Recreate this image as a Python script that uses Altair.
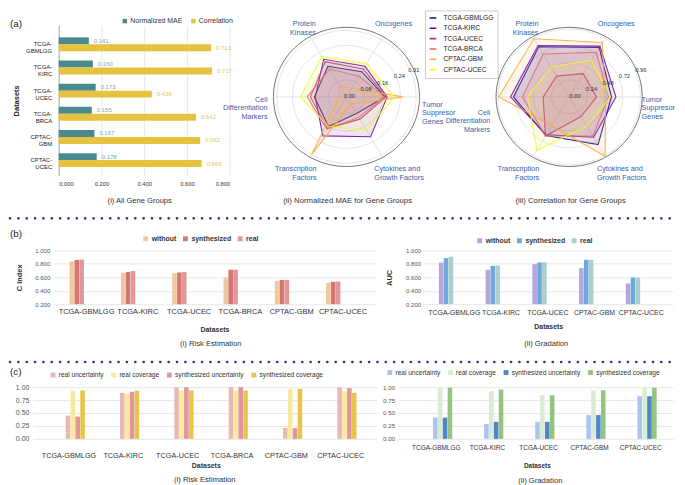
import altair as alt
import pandas as pd

FONT = "Liberation Sans"
LABEL_BLUE = "#3560b0"

# ---------------- (a)(i) all gene groups ----------------
datasets_a = ["TCGA-GBMLGG", "TCGA-KIRC", "TCGA-UCEC", "TCGA-BRCA", "CPTAC-GBM", "CPTAC-UCEC"]
metrics_a = ["Normalized MAE", "Correlation"]
mae_all = [0.141, 0.160, 0.173, 0.155, 0.167, 0.178]
corr_all = [0.713, 0.717, 0.436, 0.642, 0.662, 0.669]

# ---------------- (a)(ii)/(iii) gene groups ----------------
gene_groups = ["Tumor\nSuppresor\nGenes", "Oncogenes", "Protein\nKinases",
               "Cell\nDifferentiation\nMarkers", "Transcription\nFactors",
               "Cytokines and\nGrowth Factors"]
mae_gbmlgg = [0.171, 0.136, 0.165, 0.143, 0.160, 0.090]
mae_kirc = [0.181, 0.165, 0.203, 0.139, 0.210, 0.215]
mae_ucec = [0.175, 0.150, 0.190, 0.160, 0.170, 0.120]
mae_brca = [0.168, 0.112, 0.150, 0.175, 0.174, 0.110]
mae_cptac_gbm = [0.252, 0.047, 0.062, 0.031, 0.310, 0.040]
mae_cptac_ucec = [0.212, 0.180, 0.218, 0.205, 0.160, 0.180]
corr_gbmlgg = [0.57, 0.81, 0.82, 0.75, 0.63, 0.78]
corr_kirc = [0.63, 0.83, 0.84, 0.79, 0.62, 0.66]
corr_ucec = [0.37, 0.38, 0.34, 0.35, 0.64, 0.32]
corr_brca = [0.53, 0.73, 0.70, 0.63, 0.64, 0.64]
corr_cptac_gbm = [0.49, 0.89, 0.95, 0.95, 0.47, 0.97]
corr_cptac_ucec = [0.56, 0.60, 0.49, 0.56, 0.87, 0.48]
mae_ticks = [0.0, 0.08, 0.16, 0.24, 0.31]
corr_ticks = [0.0, 0.24, 0.48, 0.72, 0.96]
radar_colors = ["#0d0887", "#6a00a8", "#b12a90", "#e16462", "#fca636", "#f0f921"]

# ---------------- (b) ----------------
methods_b = ["without", "synthesized", "real"]
datasets_b1 = ["TCGA-GBMLGG", "TCGA-KIRC", "TCGA-UCEC", "TCGA-BRCA", "CPTAC-GBM", "CPTAC-UCEC"]
cindex_without = [0.839, 0.668, 0.663, 0.597, 0.547, 0.517]
cindex_synth = [0.859, 0.678, 0.673, 0.713, 0.562, 0.532]
cindex_real = [0.864, 0.693, 0.678, 0.713, 0.562, 0.537]
datasets_b2 = ["TCGA-GBMLGG", "TCGA-KIRC", "TCGA-UCEC", "CPTAC-GBM", "CPTAC-UCEC"]
auc_without = [0.821, 0.712, 0.796, 0.737, 0.508]
auc_synth = [0.886, 0.771, 0.821, 0.861, 0.598]
auc_real = [0.906, 0.776, 0.826, 0.861, 0.598]

# ---------------- (c) ----------------
series_c = ["real uncertainty", "real coverage", "synthesized uncertainty", "synthesized coverage"]
risk_real_unc = [0.45, 0.89, 1.00, 1.00, 0.21, 1.00]
risk_real_cov = [0.935, 0.87, 0.935, 0.935, 0.97, 0.92]
risk_syn_unc = [0.43, 0.91, 1.00, 1.00, 0.21, 0.98]
risk_syn_cov = [0.935, 0.93, 0.935, 0.935, 0.97, 0.89]
grad_real_unc = [0.41, 0.29, 0.33, 0.46, 0.825]
grad_real_cov = [0.99, 0.925, 0.845, 0.94, 1.00]
grad_syn_unc = [0.41, 0.33, 0.33, 0.46, 0.825]
grad_syn_cov = [0.99, 0.955, 0.845, 0.94, 0.99]

letters = ["(a)", "(b)", "(c)"]
captions = ["(i) All Gene Groups", "(ii) Normalized MAE for Gene Groups",
            "(iii) Correlation for Gene Groups", "(i) Risk Estimation", "(ii) Gradation"]

IND = dict(x="independent", y="independent", color="independent", fill="independent")


def long_table(cats, names, series):
    rows = []
    for name, vals in zip(names, series):
        for c, v in zip(cats, vals):
            rows.append({"dataset": c, "series": name, "value": v})
    return pd.DataFrame(rows)


# ======================= (a)(i) =======================
dfa = long_table(datasets_a, metrics_a, [mae_all, corr_all])
ya = alt.Y("dataset:N",
           scale=alt.Scale(domain=datasets_a, paddingInner=0.4, paddingOuter=0.44, align=0.59),
           axis=alt.Axis(title="Datasets",
                         labelExpr="[split(datum.label,'-')[0] + '-', split(datum.label,'-')[1]]",
                         labelFontSize=6, labelColor="#222", labelLineHeight=7, labelPadding=7,
                         ticks=False, domain=True, domainColor="#aaaaaa", domainWidth=1, grid=False,
                         titleFontSize=7.5, titleFontWeight="bold", titleColor="#222",
                         titleX=-42, titleBaseline="middle"))
yoff_a = alt.YOffset("series:N", scale=alt.Scale(domain=metrics_a, paddingInner=0, paddingOuter=0))
xa = alt.X("value:Q", scale=alt.Scale(domain=[0, 0.8], nice=False),
           axis=alt.Axis(values=[0, 0.2, 0.4, 0.6, 0.8], format=".3f", labelFontSize=5.8,
                         labelColor="#333", labelPadding=5, ticks=False, domain=False,
                         gridColor="#e3e3e3", gridWidth=0.8,
                         title=captions[0], titleFontSize=7.6, titleFontWeight="normal",
                         titleColor="#333", titleX=81, titleY=25, titleBaseline="middle"))
bars_a = alt.Chart(dfa).mark_bar().encode(
    y=ya, yOffset=yoff_a, x=xa,
    color=alt.Color("series:N", scale=alt.Scale(domain=metrics_a, range=["#4b8a8c", "#e5c23f"]),
                    legend=alt.Legend(orient="none", legendX=63, legendY=-8, direction="horizontal",
                                      title=None, symbolType="square", symbolSize=20,
                                      symbolStrokeWidth=0, labelFontSize=7, labelColor="#333",
                                      labelOffset=2, columnPadding=7, padding=0)))
text_a = alt.Chart(dfa).mark_text(align="left", dx=5, fontSize=6, font=FONT).encode(
    y=ya, yOffset=yoff_a, x=xa,
    text=alt.Text("value:Q", format=".3f"),
    color=alt.Color("series:N", scale=alt.Scale(domain=metrics_a, range=["#7aa8ad", "#e3c55a"]),
                    legend=None))
panel_a1 = alt.layer(bars_a, text_a).resolve_scale(color="independent").properties(width=172, height=151)


# ======================= radar charts =======================
def radar(vals, R, ticks, W, H, cx, cy, rx, ry, caption, cap_x, legend, tick_dx, ts_dy, cd_dy, ts_kx):
    xs = alt.Scale(domain=[-cx / rx * R, (W - cx) / rx * R], nice=False, zero=False)
    ys = alt.Scale(domain=[-(H - cy) / ry * R, cy / ry * R], nice=False, zero=False)
    xaxis = alt.Axis(title=caption, labels=False, ticks=False, domain=False, grid=False,
                     titleX=cap_x, titleY=25, titleBaseline="middle", titleFontSize=7.8,
                     titleFontWeight="normal", titleColor="#333")

    def X(f):
        return alt.X(f, type="quantitative", scale=xs, axis=xaxis)

    def Y(f):
        return alt.Y(f, type="quantitative", scale=ys, axis=None)

    rings = alt.Chart(pd.DataFrame({"r": ticks[1:]})).transform_calculate(
        a="sequence(0, 362, 3)").transform_flatten(["a"]).transform_calculate(
        px="datum.r*cos(datum.a*PI/180)", py="datum.r*sin(datum.a*PI/180)"
    ).mark_line(color="#dedede", strokeWidth=0.8).encode(
        x=X("px"), y=Y("py"), detail="r:Q", order="a:Q")

    outer = alt.Chart(pd.DataFrame({"r": [R]})).transform_calculate(
        a="sequence(0, 362, 3)").transform_flatten(["a"]).transform_calculate(
        px="datum.r*cos(datum.a*PI/180)", py="datum.r*sin(datum.a*PI/180)"
    ).mark_line(color="#666666", strokeWidth=0.9).encode(
        x=X("px"), y=Y("py"), detail="r:Q", order="a:Q")

    grp = pd.DataFrame({"group": gene_groups, "k": list(range(len(gene_groups)))})
    spokes = alt.Chart(grp).transform_calculate(
        x0="0", y0="0", px=f"{R}*cos(datum.k*PI/3)", py=f"{R}*sin(datum.k*PI/3)"
    ).mark_rule(color="#dedede", strokeWidth=0.8).encode(
        x=X("x0"), y=Y("y0"), x2="px:Q", y2="py:Q")

    rows = []
    for d in datasets_a:
        for k, g in enumerate(gene_groups):
            rows.append({"dataset": d, "group": g, "k": k, "value": vals[d][k]})
    df = pd.DataFrame(rows)
    polys = alt.Chart(df).transform_calculate(
        px="datum.value*cos(datum.k*PI/3)", py="datum.value*sin(datum.k*PI/3)"
    ).mark_line(interpolate="linear-closed", strokeWidth=1.1, strokeOpacity=0.85,
                fillOpacity=0.1).encode(
        x=X("px"), y=Y("py"), order="k:Q",
        color=alt.Color("dataset:N", scale=alt.Scale(domain=datasets_a, range=radar_colors),
                        legend=legend),
        fill=alt.Fill("dataset:N", scale=alt.Scale(domain=datasets_a, range=radar_colors),
                      legend=None))

    tick_text = alt.Chart(pd.DataFrame({"t": ticks})).transform_calculate(
        px="datum.t*cos(PI/8)", py="datum.t*sin(PI/8)"
    ).mark_text(fontSize=5.8, color="#333", dx=tick_dx, dy=-1, font=FONT).encode(
        x=X("px"), y=Y("py"), text=alt.Text("t:Q", format=".2f"))

    def lab(k, kx, ky, align, baseline, dy):
        return alt.Chart(grp).transform_filter(f"datum.k == {k}").transform_calculate(
            px=f"{R * kx}*cos(datum.k*PI/3)", py=f"{R * ky}*sin(datum.k*PI/3)"
        ).mark_text(align=align, baseline=baseline, dy=dy, fontSize=7.3, color=LABEL_BLUE,
                    lineBreak="\n", lineHeight=8.6, font=FONT).encode(
            x=X("px"), y=Y("py"), text="group:N")

    labels = [
        lab(0, ts_kx, 0, "left", "middle", ts_dy),
        lab(1, 0.78, 1.14, "left", "bottom", 0),
        lab(2, 0.84, 1.14, "right", "bottom", 0),
        lab(3, 1.08, 0, "right", "middle", cd_dy),
        lab(4, 0.82, 1.13, "right", "top", 0),
        lab(5, 0.76, 1.13, "left", "top", 0),
    ]
    return alt.layer(rings, outer, spokes, polys, tick_text, *labels).properties(width=W, height=H)


mae_vals = {"TCGA-GBMLGG": mae_gbmlgg, "TCGA-KIRC": mae_kirc, "TCGA-UCEC": mae_ucec,
            "TCGA-BRCA": mae_brca, "CPTAC-GBM": mae_cptac_gbm, "CPTAC-UCEC": mae_cptac_ucec}
corr_vals = {"TCGA-GBMLGG": corr_gbmlgg, "TCGA-KIRC": corr_kirc, "TCGA-UCEC": corr_ucec,
             "TCGA-BRCA": corr_brca, "CPTAC-GBM": corr_cptac_gbm, "CPTAC-UCEC": corr_cptac_ucec}

radar_legend = alt.Legend(orient="none", legendX=152.5, legendY=-15, title=None,
                          symbolType="stroke", symbolSize=45, symbolStrokeWidth=1.6,
                          labelFontSize=6.7, labelColor="#222", labelOffset=6, rowPadding=1.4,
                          clipHeight=8.1, padding=3.5, fillColor="white", strokeColor="#cccccc")
panel_a2 = radar(mae_vals, 0.325, mae_ticks, 147, 151, 73.5, 72, 73.5, 70,
                 captions[1], 74.2, radar_legend, 3, 8, 3, 1.034)
panel_a3 = radar(corr_vals, 0.985, corr_ticks, 147, 151, 73.5, 72, 73.5, 70,
                 captions[2], 74.5, None, 6, 3, 16, 0.99)


# ======================= grouped bar charts =======================
def grouped(cats, names, series, colors, W, H, ydom, yticks, yfmt, ytitle, ytitle_x,
            band, xoff_pad, xlab_size, xlab_pad, ylab_size, ylab_pad, ds_x, ds_y, ds_size,
            leg_x, leg_y, leg_size, leg_bold, leg_gap, caption, cap_dx, cap_offset):
    df = long_table(cats, names, series)
    pi, po, al = band
    x = alt.X("dataset:N", scale=alt.Scale(domain=cats, paddingInner=pi, paddingOuter=po, align=al),
              axis=alt.Axis(title="Datasets", labelAngle=0, labelFontSize=xlab_size, labelColor="#333",
                            labelPadding=xlab_pad, ticks=False, domain=False, grid=False, labelLimit=0,
                            titleFontSize=ds_size, titleFontWeight="bold", titleColor="#333",
                            titleX=ds_x, titleY=ds_y, titleBaseline="middle"))
    yaxis_kw = dict(values=yticks, format=yfmt, labelFontSize=ylab_size, labelColor="#555",
                    labelPadding=ylab_pad, ticks=False, domain=False, gridColor="#e2e2e2", gridWidth=0.8)
    if ytitle:
        yaxis_kw.update(title=ytitle, titleFontSize=7.5, titleFontWeight="bold", titleColor="#333",
                        titleX=ytitle_x, titleBaseline="middle")
    else:
        yaxis_kw.update(title=None)
    y = alt.Y("value:Q", scale=alt.Scale(domain=ydom, nice=False, zero=False), axis=alt.Axis(**yaxis_kw))
    return alt.Chart(df).mark_bar().encode(
        x=x,
        xOffset=alt.XOffset("series:N", scale=alt.Scale(domain=names, paddingInner=xoff_pad, paddingOuter=0)),
        y=y,
        y2=alt.datum(ydom[0]),
        color=alt.Color("series:N", scale=alt.Scale(domain=names, range=colors),
                        legend=alt.Legend(orient="none", legendX=leg_x, legendY=leg_y, direction="horizontal",
                                          title=None, symbolType="square", symbolSize=24, symbolStrokeWidth=0,
                                          labelFontSize=leg_size, labelFontWeight="bold" if leg_bold else "normal",
                                          labelColor="#333", labelOffset=2.5, columnPadding=leg_gap, padding=0)),
    ).properties(
        width=W, height=H,
        title=alt.TitleParams(caption, orient="bottom", offset=cap_offset, fontSize=7.7, fontWeight="normal",
                              color="#333", font=FONT, anchor="middle", frame="group", dx=cap_dx))


panel_b1 = grouped(datasets_b1, methods_b, [cindex_without, cindex_synth, cindex_real],
                   ["#f0c9a0", "#d6766e", "#e3979c"], 324, 54, [0.2, 1.0],
                   [0.2, 0.4, 0.6, 0.8, 1.0], ".3f", "C Index", -34,
                   (0.341, 0.31, 0.5), 0.06, 7.5, 3, 6, 4, 161.7, 25.3, 7,
                   89, -15.5, 7, True, 5, captions[3], -4, 7.4)
panel_b2 = grouped(datasets_b2, methods_b, [auc_without, auc_synth, auc_real],
                   ["#b6a6dc", "#6fa8dc", "#a9d0cc"], 252, 54, [0.2, 1.0],
                   [0.2, 0.4, 0.6, 0.8, 1.0], ".3f", "AUC", -33,
                   (0.34, 0.35, 0.5), 0.06, 7, 4, 6, 2, 126.5, 22, 7,
                   54, -13.5, 7, True, 5, captions[4], -1.5, 10.7)
panel_c1 = grouped(datasets_b1, series_c, [risk_real_unc, risk_real_cov, risk_syn_unc, risk_syn_cov],
                   ["#e8b9b4", "#f7ea9f", "#e4949c", "#e7c54a"], 346, 52, [0.0, 1.0],
                   [0, 0.25, 0.5, 0.75, 1.0], ".2f", None, 0,
                   (0.34, 0.335, 0.5), 0.15, 7.3, 13, 7, 4, 174, 27, 7,
                   17, -15.5, 6.6, False, 6, captions[3], 0, 7.7)
panel_c2 = grouped(datasets_b2, series_c, [grad_real_unc, grad_real_cov, grad_syn_unc, grad_syn_cov],
                   ["#a9c5f2", "#d9ecd3", "#4e86c6", "#94c47e"], 277, 52, [0.0, 1.0],
                   [0, 0.25, 0.5, 0.75, 1.0], ".2f", None, 0,
                   (0.30, 0.344, 0.59), 0.15, 6.5, 6, 6.3, 3, 140, 27, 6.5,
                   -11.3, -18, 6.6, False, 6, captions[4], 5, 8)


# ======================= spacers, letters and separators =======================
def spacer(w, h, letter="", letter_y=0, sep_y=None, sep_x2=669):
    base = alt.Chart(pd.DataFrame({"t": [letter]}))
    layers = [base.mark_text(align="left", baseline="middle", fontSize=10, color="#222", font=FONT).encode(
        text="t:N", x=alt.value(0), y=alt.value(letter_y))]
    if sep_y is not None:
        layers.append(base.mark_rule(color="#34338a", strokeWidth=2.6, strokeDash=[0.1, 8.3],
                                     strokeCap="round").encode(
            x=alt.value(0), x2=alt.value(sep_x2), y=alt.value(sep_y)))
    return alt.layer(*layers).properties(width=w, height=h)


row_a = alt.hconcat(spacer(49, 151, letters[0], -1), panel_a1, spacer(43.5, 151), panel_a2,
                    spacer(77, 151), panel_a3, spacing=0, bounds="flush").resolve_scale(**IND)
row_b = alt.hconcat(spacer(44, 54, letters[1], -17, sep_y=-32.3), panel_b1, spacer(47, 54), panel_b2,
                    spacing=0, bounds="flush").resolve_scale(**IND)
row_c = alt.hconcat(spacer(23, 52, letters[2], -15, sep_y=-25.3), panel_c1, spacer(21, 52), panel_c2,
                    spacing=0, bounds="flush").resolve_scale(**IND)

chart = alt.vconcat(
    row_a, row_b, row_c, spacing=12.5, bounds="full", padding=0
).resolve_scale(**IND).configure_view(stroke=None).configure_axis(
    labelFont=FONT, titleFont=FONT
).configure_legend(labelFont=FONT).configure_title(font=FONT).configure_text(font=FONT)

chart.save("out.html", embed_options={"renderer": "svg", "actions": False})
